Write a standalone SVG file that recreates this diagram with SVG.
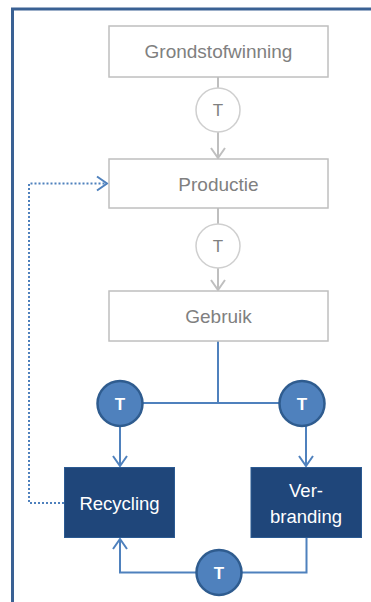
<svg xmlns="http://www.w3.org/2000/svg" width="371" height="602" viewBox="0 0 371 602">
<defs>
<style>
.box{fill:#ffffff;stroke:#bfbfbf;stroke-width:1.5}
.dbox{fill:#1f467a;stroke:#2b5a92;stroke-width:1}
.gtxt{font-family:"Liberation Sans",Arial,sans-serif;font-size:19px;fill:#808080;text-anchor:middle}
.wtxt{font-family:"Liberation Sans",Arial,sans-serif;font-size:18.5px;fill:#ffffff;text-anchor:middle}
.gcirc{fill:#ffffff;stroke:#cfcfcf;stroke-width:1.5}
.bcirc{fill:#4f81bd;stroke:#2f5c8f;stroke-width:2.5}
.gT{font-family:"Liberation Sans",Arial,sans-serif;font-size:17px;fill:#808080;text-anchor:middle}
.bT{font-family:"Liberation Sans",Arial,sans-serif;font-size:17px;font-weight:bold;fill:#ffffff;text-anchor:middle}
.gline{fill:none;stroke:#bfbfbf;stroke-width:2}
.bline{fill:none;stroke:#4f81bd;stroke-width:2}
.dot{fill:none;stroke:#4f81bd;stroke-width:2;stroke-dasharray:2 2}
</style>
<marker id="ga" markerUnits="userSpaceOnUse" markerWidth="20" markerHeight="20" viewBox="-12 -10 14 20" refX="0" refY="0" orient="auto">
<path d="M -10 -7 L 0 0 L -10 7" fill="none" stroke="#bfbfbf" stroke-width="2"/>
</marker>
<marker id="ba" markerUnits="userSpaceOnUse" markerWidth="20" markerHeight="20" viewBox="-12 -10 14 20" refX="0" refY="0" orient="auto">
<path d="M -10 -7 L 0 0 L -10 7" fill="none" stroke="#4f81bd" stroke-width="2"/>
</marker>
</defs>
<path d="M 12.5 602 V 9 H 371" fill="none" stroke="#3a6194" stroke-width="3"/>
<g id="connectors">
<line class="gline" x1="218" y1="77" x2="218" y2="88"/>
<line class="gline" x1="218" y1="132" x2="218" y2="158" marker-end="url(#ga)"/>
<line class="gline" x1="218" y1="208" x2="218" y2="224"/>
<line class="gline" x1="218" y1="268" x2="218" y2="290" marker-end="url(#ga)"/>
<line class="bline" x1="218" y1="341" x2="218" y2="403"/>
<line class="bline" x1="143" y1="403" x2="279" y2="403"/>
<line class="bline" x1="120" y1="426" x2="120" y2="466" marker-end="url(#ba)"/>
<line class="bline" x1="306" y1="426" x2="306" y2="466" marker-end="url(#ba)"/>
<path class="bline" d="M 306.5 538 V 572.5 H 242"/>
<path class="bline" d="M 196 572.5 H 120 V 539" marker-end="url(#ba)"/>
<path class="dot" d="M 64 503 H 29 V 183.5 H 107" marker-end="url(#ba)"/>
</g>
<g id="grondstofwinning"><rect class="box" x="109" y="26" width="219" height="51"/><text class="gtxt" x="218.5" y="58">Grondstofwinning</text></g>
<g id="t1"><circle class="gcirc" cx="218" cy="110" r="22"/><text class="gT" x="218" y="116">T</text></g>
<g id="productie"><rect class="box" x="109" y="159" width="219" height="49"/><text class="gtxt" x="218.5" y="191">Productie</text></g>
<g id="t2"><circle class="gcirc" cx="218" cy="246" r="22"/><text class="gT" x="218" y="252">T</text></g>
<g id="gebruik"><rect class="box" x="109" y="291" width="219" height="50"/><text class="gtxt" x="218.5" y="322.5">Gebruik</text></g>
<g id="t3"><circle class="bcirc" cx="120" cy="403.5" r="22.5"/><text class="bT" x="120" y="409.5">T</text></g>
<g id="t4"><circle class="bcirc" cx="302" cy="403.5" r="22.5"/><text class="bT" x="302" y="409.5">T</text></g>
<g id="recycling"><rect class="dbox" x="64.5" y="467.5" width="110" height="70"/><text class="wtxt" x="119.5" y="509.5">Recycling</text></g>
<g id="verbranding"><rect class="dbox" x="251" y="467.5" width="110.5" height="70"/><text class="wtxt" x="306" y="496.5">Ver-</text><text class="wtxt" x="306" y="522.5">branding</text></g>
<g id="t5"><circle class="bcirc" cx="219" cy="572.5" r="22.5"/><text class="bT" x="219" y="578.5">T</text></g>
</svg>
